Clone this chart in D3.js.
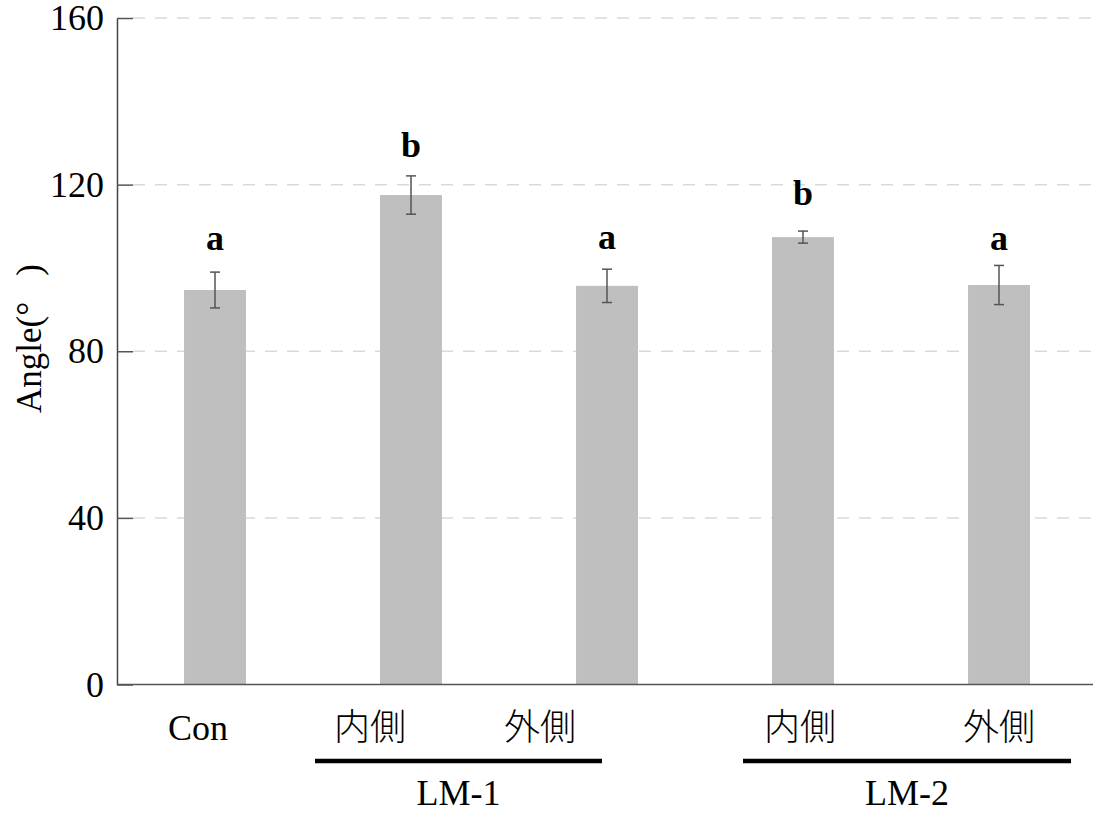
<!DOCTYPE html>
<html>
<head>
<meta charset="utf-8">
<script src="https://cdn.jsdelivr.net/npm/d3@7"></script>
<style>
  body { margin: 0; background: #fff; }
  text { font-family: "Liberation Serif", "Times New Roman", "Noto Sans CJK JP", serif; fill: #000; }
</style>
</head>
<body>
<div id="graph"></div>
<script>
// data
var categories = ['Con', 'LM-1 内側', 'LM-1 外側', 'LM-2 内側', 'LM-2 外側']
var tickNames  = ['Con', '内側', '外側', '内側', '外側']
var means      = [94.7, 117.5, 95.7, 107.4, 95.9]
var errs       = [4.3, 4.6, 4.0, 1.45, 4.7]
var letters    = ['a', 'b', 'a', 'b', 'a']
var letterAt   = [104.3, 126.6, 104.6, 115.1, 104.3]
var groups     = ['LM-1', 'LM-2']
var groupMembers = [['LM-1 内側', 'LM-1 外側'], ['LM-2 内側', 'LM-2 外側']]
var yTicks     = [0, 40, 80, 120, 160]

var W = 1093, H = 814
var m = {left: 117, top: 18, right: 0, bottom: 129.5}

var svg = d3.select('#graph').append('svg')
    .attr('width', W).attr('height', H)

var x = d3.scaleBand()
    .domain(categories)
    .range([m.left, m.left + 980])
    .paddingInner(0.684)
    .paddingOuter(0.342)

var y = d3.scaleLinear()
    .domain([0, 160])
    .range([H - m.bottom, m.top])

// dashed grid
svg.append('g').selectAll('line')
    .data(yTicks.filter(function(d){ return d > 0 }))
  .enter().append('line')
    .attr('x1', m.left + 16).attr('x2', W)
    .attr('y1', y).attr('y2', y)
    .attr('stroke', '#d9d9d9')
    .attr('stroke-width', 1.5)
    .attr('stroke-dasharray', '12,10')

// bars
svg.append('g').selectAll('rect')
    .data(categories)
  .enter().append('rect')
    .attr('x', function(d){ return x(d) })
    .attr('width', x.bandwidth())
    .attr('y', function(d, i){ return y(means[i]) })
    .attr('height', function(d, i){ return y(0) - y(means[i]) })
    .attr('fill', '#bfbfbf')

// error bars
var eb = svg.append('g').attr('stroke', '#555').attr('stroke-width', 1.5)
categories.forEach(function(d, i){
  var cx = x(d) + x.bandwidth() / 2
  var top = y(means[i] + errs[i]), bot = y(means[i] - errs[i])
  eb.append('line').attr('x1', cx).attr('x2', cx).attr('y1', top).attr('y2', bot)
  eb.append('line').attr('x1', cx - 5).attr('x2', cx + 5).attr('y1', top).attr('y2', top)
  eb.append('line').attr('x1', cx - 5).attr('x2', cx + 5).attr('y1', bot).attr('y2', bot)
})

// significance letters
svg.append('g').selectAll('text')
    .data(categories)
  .enter().append('text')
    .attr('x', function(d){ return x(d) + x.bandwidth() / 2 })
    .attr('y', function(d, i){ return y(letterAt[i]) })
    .attr('text-anchor', 'middle')
    .style('font-weight', 'bold')
    .style('font-size', '36px')
    .text(function(d, i){ return letters[i] })

// y axis
var yAxis = svg.append('g')
    .attr('transform', 'translate(' + m.left + ',0)')
    .call(d3.axisLeft(y).tickValues(yTicks).tickSize(-16).tickPadding(13).tickSizeOuter(0))
yAxis.select('.domain').attr('stroke', '#444').attr('stroke-width', 1.5)
yAxis.selectAll('.tick line').attr('stroke', '#555').attr('stroke-width', 1.5)
yAxis.selectAll('.tick text')
    .style('font-size', '36px')
    .style('font-family', '"Liberation Serif", "Times New Roman", serif')
    .attr('fill', '#000')
    .attr('dy', '0.32em')

// x baseline
svg.append('line')
    .attr('x1', m.left).attr('x2', W)
    .attr('y1', y(0)).attr('y2', y(0))
    .attr('stroke', '#555').attr('stroke-width', 1.5)

// category labels (shifted like the original)
var labelShift = [-17, -41, -67, -3, 0]
svg.append('g').selectAll('text')
    .data(categories)
  .enter().append('text')
    .attr('x', function(d, i){ return x(d) + x.bandwidth() / 2 + labelShift[i] })
    .attr('y', 740)
    .attr('text-anchor', 'middle')
    .style('font-size', '36px')
    .style('font-weight', 300)
    .text(function(d, i){ return tickNames[i] })

// group brackets
var spanPad = [[-96, -5], [-60, 72]]
groups.forEach(function(g, i){
  var first = groupMembers[i][0], last = groupMembers[i][groupMembers[i].length - 1]
  var x1 = x(first) + x.bandwidth() / 2 + spanPad[i][0]
  var x2 = x(last) + x.bandwidth() / 2 + spanPad[i][1]
  svg.append('line')
      .attr('x1', x1).attr('x2', x2)
      .attr('y1', 761).attr('y2', 761)
      .attr('stroke', '#000').attr('stroke-width', 4.5)
  svg.append('text')
      .attr('x', (x1 + x2) / 2)
      .attr('y', 805)
      .attr('text-anchor', 'middle')
      .style('font-size', '36px')
      .text(g)
})

// y title
var yt = svg.append('text')
    .attr('transform', 'translate(41,413) rotate(-90)')
    .style('font-size', '35px')
yt.append('tspan').text('Angle(°')
yt.append('tspan').attr('dx', 26).text(')')
</script>
</body>
</html>
